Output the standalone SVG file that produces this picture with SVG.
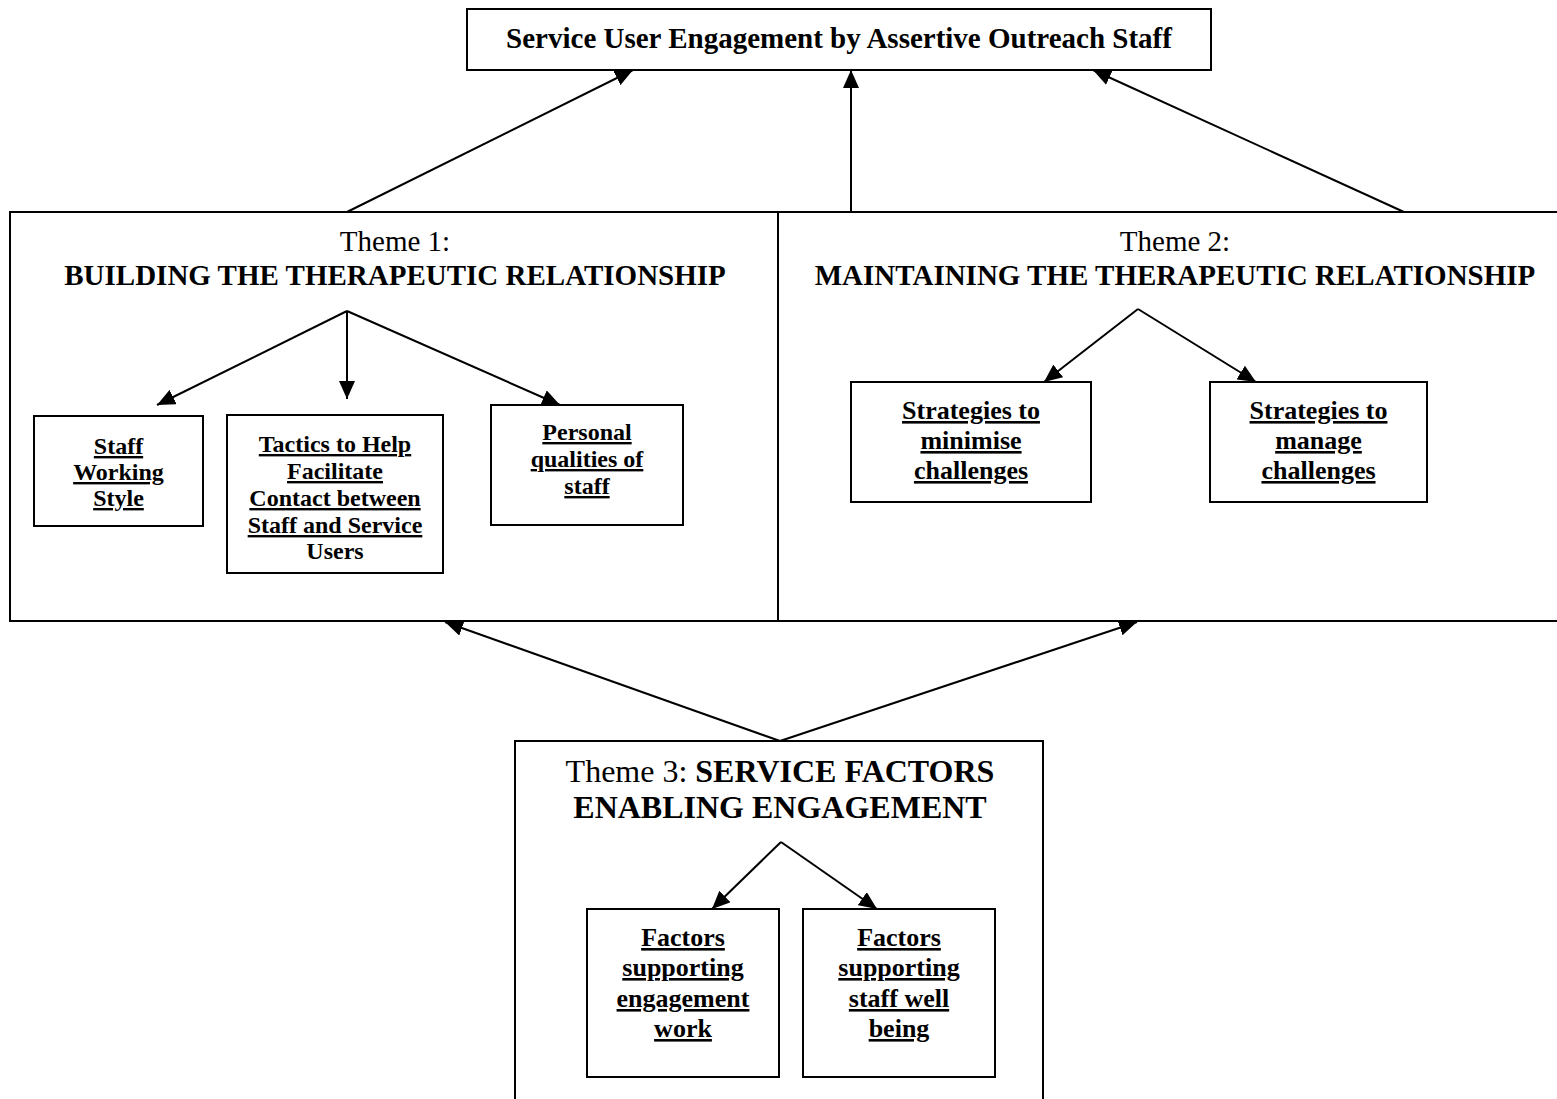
<svg xmlns="http://www.w3.org/2000/svg" width="1557" height="1099" viewBox="0 0 1557 1099">
<style>
  .box { fill: #ffffff; stroke: #000000; stroke-width: 2; }
  .ln { stroke: #000000; stroke-width: 2; fill: none; marker-end: url(#ah); }
  text { font-family: "Liberation Serif", "Times New Roman", serif; fill: #000000; text-anchor: middle; }
  .title { font-size: 29px; font-weight: bold; }
  .thm { font-size: 29px; }
  .thb { font-size: 29px; font-weight: bold; }
  .t3 { font-size: 32px; }
  .s1 { font-size: 24px; font-weight: bold; }
  .s2 { font-size: 26px; font-weight: bold; }
  .u { text-decoration: underline; }
</style>
<defs>
  <marker id="ah" markerUnits="userSpaceOnUse" markerWidth="20" markerHeight="16" refX="18" refY="8" orient="auto">
    <path d="M0,0 L18,8 L0,16 z" fill="#000000"/>
  </marker>
</defs>
<rect width="1557" height="1099" fill="#ffffff"/>

<g id="top">
  <rect class="box" x="467" y="9" width="744" height="61"/>
  <text class="title" x="839" y="48">Service User Engagement by Assertive Outreach Staff</text>
</g>

<g id="theme1">
  <rect class="box" x="10" y="212" width="768" height="409"/>
  <text class="thm" x="395" y="251">Theme 1:</text>
  <text class="thb" x="395" y="285">BUILDING THE THERAPEUTIC RELATIONSHIP</text>
</g>

<g id="theme2">
  <rect class="box" x="778" y="212" width="790" height="409"/>
  <text class="thm" x="1175" y="251">Theme 2:</text>
  <text class="thb" x="1175" y="285">MAINTAINING THE THERAPEUTIC RELATIONSHIP</text>
</g>

<g id="theme3">
  <rect class="box" x="515" y="741" width="528" height="380"/>
  <text class="t3" x="780" y="782">Theme 3: <tspan font-weight="bold">SERVICE FACTORS</tspan></text>
  <text class="t3" x="780" y="818" font-weight="bold">ENABLING ENGAGEMENT</text>
</g>

<g id="staff-working-style">
  <rect class="box" x="34" y="416" width="169" height="110"/>
  <text class="s1 u" x="118.5" y="454">Staff</text>
  <text class="s1 u" x="118.5" y="480">Working</text>
  <text class="s1 u" x="118.5" y="506">Style</text>
</g>

<g id="tactics">
  <rect class="box" x="227" y="415" width="216" height="158"/>
  <text class="s1 u" x="335" y="452">Tactics to Help</text>
  <text class="s1 u" x="335" y="479">Facilitate</text>
  <text class="s1 u" x="335" y="506">Contact between</text>
  <text class="s1 u" x="335" y="533">Staff and Service</text>
  <text class="s1" x="335" y="559">Users</text>
</g>

<g id="personal-qualities">
  <rect class="box" x="491" y="405" width="192" height="120"/>
  <text class="s1 u" x="587" y="440">Personal</text>
  <text class="s1 u" x="587" y="467">qualities of</text>
  <text class="s1 u" x="587" y="494">staff</text>
</g>

<g id="strategies-minimise">
  <rect class="box" x="851" y="382" width="240" height="120"/>
  <text class="s2 u" x="971" y="419">Strategies to</text>
  <text class="s2 u" x="971" y="449">minimise</text>
  <text class="s2 u" x="971" y="479">challenges</text>
</g>

<g id="strategies-manage">
  <rect class="box" x="1210" y="382" width="217" height="120"/>
  <text class="s2 u" x="1318.5" y="419">Strategies to</text>
  <text class="s2 u" x="1318.5" y="449">manage</text>
  <text class="s2 u" x="1318.5" y="479">challenges</text>
</g>

<g id="factors-engagement">
  <rect class="box" x="587" y="909" width="192" height="168"/>
  <text class="s2 u" x="683" y="946">Factors</text>
  <text class="s2 u" x="683" y="976">supporting</text>
  <text class="s2 u" x="683" y="1007">engagement</text>
  <text class="s2 u" x="683" y="1037">work</text>
</g>

<g id="factors-wellbeing">
  <rect class="box" x="803" y="909" width="192" height="168"/>
  <text class="s2 u" x="899" y="946">Factors</text>
  <text class="s2 u" x="899" y="976">supporting</text>
  <text class="s2 u" x="899" y="1007">staff well</text>
  <text class="s2 u" x="899" y="1037">being</text>
</g>

<g id="connectors">
  <line class="ln" x1="347" y1="212" x2="633" y2="70"/>
  <line class="ln" x1="851" y1="212" x2="851" y2="70"/>
  <line class="ln" x1="1404" y1="212" x2="1093" y2="70"/>

  <line class="ln" x1="347" y1="311" x2="157" y2="405"/>
  <line class="ln" x1="347" y1="311" x2="347" y2="399"/>
  <line class="ln" x1="347" y1="311" x2="560" y2="405"/>

  <line class="ln" x1="1138" y1="309" x2="1044" y2="382"/>
  <line class="ln" x1="1138" y1="309" x2="1256" y2="382"/>

  <line class="ln" x1="780" y1="741" x2="445" y2="622"/>
  <line class="ln" x1="780" y1="741" x2="1137" y2="622"/>

  <line class="ln" x1="781" y1="842" x2="712" y2="909"/>
  <line class="ln" x1="781" y1="842" x2="877" y2="909"/>
</g>
</svg>
